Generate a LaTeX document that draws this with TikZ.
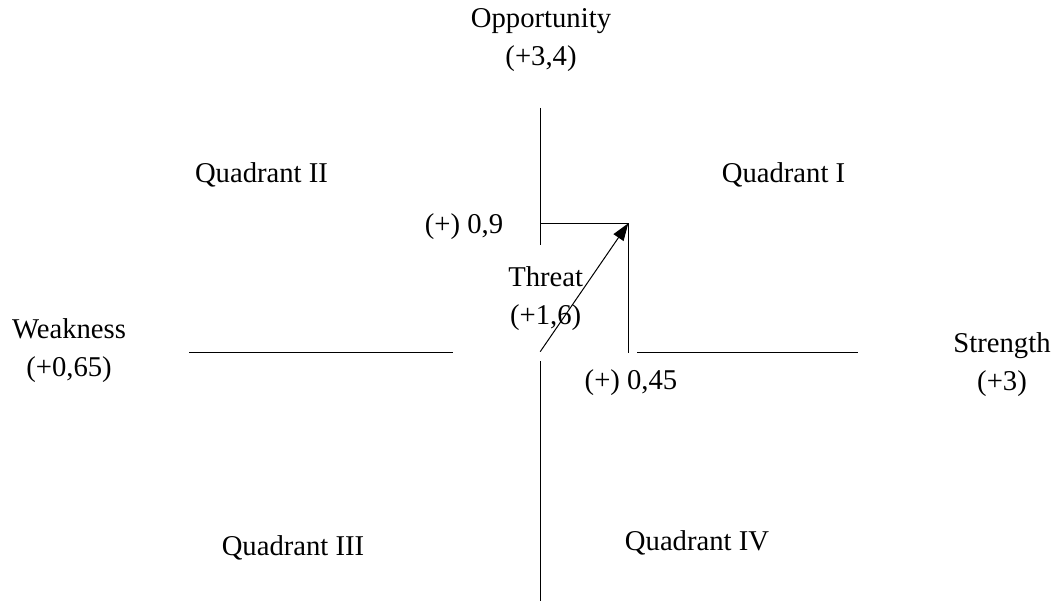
\documentclass[tikz,border=0pt]{standalone}
\usepackage{fontspec}
\setmainfont{Liberation Serif}
\usetikzlibrary{arrows.meta}
\tikzset{every picture/.style={line width=0.75pt}}
\tikzset{lbl/.style={inner sep=0.75pt,align=center,font=\fontsize{21.5}{28.5}\selectfont}}

\begin{document}
\begin{tikzpicture}[x=0.75pt,y=0.75pt,yscale=-1,xscale=1]
		\path (0,0) rectangle (1055,602); %set diagram size
		
		%Straight Lines upper axis
		\draw    (540.7,108) -- (540.7,245) ;
		%Straight Lines lower axis
		\draw    (540.7,361) -- (540.7,601) ;
		%Straight Lines left axis
		\draw    (189,352.5) -- (453,352.5) ;
		%Straight Lines right axis
		\draw    (637,352.5) -- (858,352.5) ;
		%Straight Lines top step
		\draw    (540.7,223.3) -- (628.3,223.3) ;
		%Straight Lines right step
		\draw    (628.3,223.3) -- (628.3,353) ;
		
		\coordinate (origin) at (540.2,351.7);
		\coordinate (tip) at (628.3,223.3);
		%Arrow
		\draw [-{Triangle[length=13pt,width=9pt]}]  (origin) -- (tip) ;
		
		% Text Node
		\node [lbl] (opp) at (541,40) {Opportunity\\(+3,4)};
		% Text Node
		\node [lbl] (q2) at (261.5,175) {Quadrant II};
		% Text Node
		\node [lbl] (q1) at (783.5,175) {Quadrant I};
		% Text Node
		\node [lbl] (ny) at (464,227) {(+) 0,9};
		% Text Node
		\node [lbl] (thr) at (545.7,299) {Threat\\(+1,6)};
		% Text Node
		\node [lbl] (weak) at (69,351) {Weakness\\(+0,65)};
		% Text Node
		\node [lbl] (str) at (1002,365) {Strength\\(+3)};
		% Text Node
		\node [lbl] (nx) at (631,383) {(+) 0,45};
		% Text Node
		\node [lbl] (q3) at (293,548) {Quadrant III};
		% Text Node
		\node [lbl] (q4) at (697,543) {Quadrant IV};
\end{tikzpicture}
\end{document}
